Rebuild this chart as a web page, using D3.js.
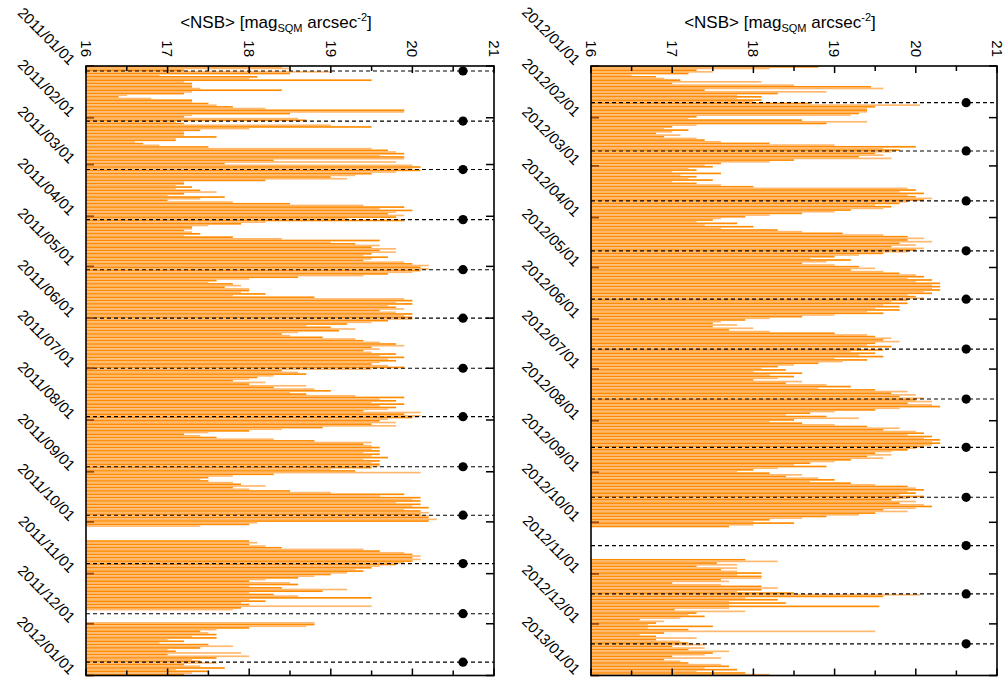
<!DOCTYPE html>
<html>
<head>
<meta charset="utf-8">
<script src="https://cdn.jsdelivr.net/npm/d3@7"></script>
<style>
  html, body { margin: 0; padding: 0; background: #fff; }
  svg { display: block; font-family: "Liberation Sans", Arial, sans-serif; }
</style>
</head>
<body>
<svg id="chart" width="1005" height="679"></svg>
<script>
// Nightly sky brightness, one value per night, from 1 Jan; null = no data
const nsb2011 = [
  18.4,18.5,17.2,19.0,18.5,16.9,18.1,18.0,19.5,17.2,
  17.3,17.3,17.3,17.4,18.4,17.3,17.2,16.5,16.4,16.8,
  17.3,17.3,17.5,17.6,17.8,18.2,19.9,19.9,18.5,17.3,
  17.2,18.6,18.7,17.1,17.2,19.0,19.5,18.0,17.4,17.2,
  17.2,17.2,17.6,17.1,17.1,16.6,16.7,16.9,17.5,19.5,
  19.7,19.8,19.9,19.6,19.9,19.9,18.3,19.8,17.7,20.0,
  20.1,20.0,20.1,19.8,19.5,19.3,19.0,19.2,18.2,17.2,
  17.2,17.1,17.3,17.1,17.4,17.6,17.2,17.0,17.7,17.4,
  17.0,17.8,18.5,19.4,19.9,19.6,20.0,19.8,19.7,19.9,
  19.8,19.2,19.9,18.2,17.9,17.5,17.3,17.3,17.2,17.3,
  17.4,17.2,17.8,18.4,19.6,19.0,19.3,19.6,19.5,19.8,
  19.6,19.8,19.5,19.4,19.7,19.5,19.4,19.9,20.0,20.2,
  20.1,20.2,20.1,20.0,19.7,19.4,18.6,18.0,17.6,17.5,
  17.8,17.9,17.7,18.0,18.0,17.9,18.2,17.8,18.8,19.9,
  20.0,19.8,20.0,19.7,19.8,19.9,19.6,19.8,20.0,19.9,
  20.0,20.0,19.7,19.5,19.2,18.7,19.0,19.3,19.1,18.6,
  18.4,18.5,18.9,19.3,19.4,19.6,19.8,19.9,19.5,19.6,
  19.4,19.5,19.8,19.6,19.9,19.7,19.8,19.6,19.5,19.7,
  19.9,19.5,18.4,18.6,18.7,18.3,18.1,18.0,17.8,18.2,
  18.0,18.7,18.3,18.8,19.0,18.5,18.7,19.3,19.9,19.6,
  19.8,19.5,19.9,19.6,19.8,19.7,19.4,20.1,19.9,20.1,
  20.0,19.7,19.6,19.8,19.5,19.8,18.9,18.4,18.0,17.5,
  17.2,17.4,17.6,18.3,18.8,19.5,19.4,19.5,19.6,19.5,
  19.6,19.4,19.6,19.5,19.7,19.4,19.6,19.5,19.6,19.6,
  19.5,19.0,19.3,20.1,18.3,17.8,17.5,17.4,17.5,17.8,
  17.9,18.2,17.8,18.0,18.5,19.0,19.9,19.6,20.1,20.0,
  20.1,19.8,20.1,20.0,20.2,19.9,20.1,20.2,20.1,20.2,
  20.2,20.3,20.2,18.1,18.0,17.4,null,null,null,null,
  null,null,null,null,18.0,18.1,18.0,18.2,18.4,19.4,
  19.6,19.9,20.0,20.1,20.0,20.1,20.0,19.9,19.8,19.6,
  19.5,19.3,19.4,19.2,19.0,18.8,18.6,18.2,18.0,18.5,
  18.6,18.0,18.4,19.2,18.9,18.0,18.3,18.6,19.5,18.0,
  18.2,17.9,18.0,19.5,17.9,17.8,null,null,null,null,
  null,null,null,18.8,18.8,18.7,18.0,17.6,17.4,17.5,
  17.6,17.3,17.6,17.0,17.2,16.9,17.5,17.8,17.4,17.0,
  17.1,17.9,17.0,18.0,17.6,17.3,17.4,17.6,17.2,17.4,
  17.7,17.1,17.5,17.3,17.2
];
const nsb2012 = [
  18.8,18.2,17.3,17.5,17.2,16.5,16.8,16.9,17.1,18.1,
  17.0,18.5,19.45,19.6,17.4,18.9,18.3,17.8,18.1,17.8,
  18.1,18.0,18.7,20.05,19.5,19.4,19.4,19.4,19.3,19.2,
  17.3,17.2,18.6,19.4,18.9,17.3,17.0,16.9,17.2,17.0,
  16.8,17.1,16.9,17.3,17.4,17.6,18.2,19.0,20.0,19.6,
  19.8,19.7,19.5,19.6,19.3,19.7,18.5,18.2,17.6,17.4,
  17.5,17.2,17.3,17.0,17.6,17.1,17.3,17.2,17.5,17.0,
  17.3,17.6,18.0,19.9,20.0,19.8,20.1,19.9,20.0,20.2,
  20.1,19.9,19.8,19.5,19.7,19.6,19.2,19.0,18.6,18.2,
  17.9,17.6,17.5,17.3,17.8,17.4,18.0,17.6,18.3,18.6,
  19.1,19.6,19.9,20.1,19.9,20.2,19.8,20.0,19.7,20.1,
  20.0,19.9,19.6,19.3,19.0,18.7,19.2,18.9,18.6,19.0,
  19.3,19.5,19.2,19.6,19.8,20.0,20.1,19.9,20.2,20.0,
  20.3,20.2,20.3,20.2,20.3,20.1,20.2,19.9,20.0,20.1,
  19.9,19.7,19.9,19.6,19.8,19.5,19.8,19.4,19.6,19.0,
  18.6,18.2,17.9,17.6,17.5,17.8,17.5,18.0,17.7,18.2,
  19.0,19.4,19.5,19.7,19.6,19.8,19.5,19.4,19.7,19.3,
  19.6,19.2,19.5,19.3,19.6,19.0,19.4,19.1,18.8,18.5,
  18.3,18.1,18.4,18.0,18.6,18.2,18.5,18.3,18.0,18.6,
  18.4,18.9,19.2,18.8,19.5,19.9,19.7,20.0,19.8,20.1,
  20.0,20.2,19.9,20.2,20.3,19.8,19.5,19.0,18.7,18.4,
  18.9,19.3,18.5,18.2,18.6,19.0,19.4,19.8,19.6,20.0,
  20.1,19.9,20.2,20.1,20.3,20.2,20.3,20.2,20.1,20.0,
  19.9,19.7,19.5,19.7,19.4,19.6,19.2,19.0,18.7,18.5,
  18.9,18.3,18.0,17.8,18.2,18.6,18.4,18.8,19.0,18.7,
  19.2,19.5,19.9,20.0,20.1,19.9,20.0,19.8,20.1,19.9,
  19.7,20.0,19.8,20.1,20.2,20.0,19.6,19.9,19.5,19.3,
  18.9,18.6,18.2,18.0,18.5,18.0,17.7,null,null,null,
  null,null,null,null,null,null,null,null,null,null,
  null,null,null,null,null,null,17.9,18.3,17.55,17.8,
  17.3,17.8,17.6,17.8,18.1,17.8,18.1,18.1,17.6,17.7,
  17.0,17.6,18.1,18.3,18.1,17.8,18.5,20.05,19.6,17.9,
  18.3,17.7,18.4,17.7,19.55,17.7,17.03,17.9,17.3,17.2,
  17.4,17.1,16.6,16.9,16.8,16.7,17.5,16.7,17.2,19.5,
  16.9,16.6,16.8,17.3,16.8,17.1,17.2,17.4,17.0,17.4,
  17.2,17.7,17.5,17.4,17.0,17.6,16.9,17.1,17.2,17.6,
  17.7,17.4,17.8,17.3,17.9,18.2
];

// New moon dates, marked with dashed lines
const newMoon2011 = ["2011-01-04","2011-02-03","2011-03-04","2011-04-03","2011-05-03","2011-06-01",
  "2011-07-01","2011-07-30","2011-08-29","2011-09-27","2011-10-26","2011-11-25","2011-12-24"];
const newMoon2012 = ["2012-01-23","2012-02-21","2012-03-22","2012-04-21","2012-05-20","2012-06-19",
  "2012-07-19","2012-08-17","2012-09-16","2012-10-15","2012-11-13","2012-12-13"];

// Magnitude axis
const magDomain = [16, 21];
const magTicks = [16, 17, 18, 19, 20, 21];
const magMinorTicks = [16.5, 17.5, 18.5, 19.5, 20.5];
const moonMarkerMag = 20.62;

const panels = [
  { left: 86, right: 494, start: "2011-01-01", end: "2012-01-01", values: nsb2011, moons: newMoon2011 },
  { left: 591, right: 997, start: "2012-01-01", end: "2013-01-01", values: nsb2012, moons: newMoon2012 }
];

const TOP = 66, BOTTOM = 675.5;
const svg = d3.select("#chart");
const parse = d3.utcParse("%Y-%m-%d");
const fmt = d3.utcFormat("%Y/%m/%d");
const darkOrange = "#ff8c00", lightOrange = "#ffb86e";

panels.forEach(p => {
  const t0 = parse(p.start), t1 = parse(p.end);
  const x = d3.scaleLinear().domain(magDomain).range([p.left, p.right]);
  const y = d3.scaleUtc().domain([t0, t1]).range([TOP, BOTTOM]);
  const days = d3.utcDay.range(t0, t1);
  const g = svg.append("g");

  // nightly bars from the faint end of the axis
  const rows = days.map((d, i) => ({ date: d, v: p.values[i], i }))
    .filter(r => r.v != null);
  g.append("g").selectAll("rect").data(rows).join("rect")
    .attr("x", x(magDomain[0]))
    .attr("y", r => y(r.date))
    .attr("width", r => x(r.v) - x(magDomain[0]))
    .attr("height", r => y(d3.utcDay.offset(r.date, 1)) - y(r.date))
    .attr("fill", r => r.i % 2 ? lightOrange : darkOrange);

  // new moon dashed lines with markers
  const moons = p.moons.map(parse);
  g.append("g").selectAll("line").data(moons).join("line")
    .attr("x1", p.left).attr("x2", p.right)
    .attr("y1", d => y(d)).attr("y2", d => y(d))
    .attr("stroke", "#000").attr("stroke-width", 1.1)
    .attr("stroke-dasharray", "4,3");
  g.append("g").selectAll("circle").data(moons).join("circle")
    .attr("cx", x(moonMarkerMag)).attr("cy", d => y(d)).attr("r", 4.6)
    .attr("fill", "#000");

  // month ticks, inward on both sides
  const months = d3.utcMonth.range(t0, d3.utcDay.offset(t1, 1));
  g.append("g").selectAll("line").data(months).join("line")
    .attr("x1", p.left).attr("x2", p.left + 8)
    .attr("y1", d => y(d)).attr("y2", d => y(d))
    .attr("stroke", "#9a4a10").attr("stroke-width", 1.8);
  g.append("g").selectAll("line").data(months).join("line")
    .attr("x1", p.right).attr("x2", p.right - 8)
    .attr("y1", d => y(d)).attr("y2", d => y(d))
    .attr("stroke", "#000").attr("stroke-width", 1.5);

  // month labels
  g.append("g").selectAll("text").data(months).join("text")
    .attr("transform", d => `translate(${p.left - 17},${y(d)}) rotate(45)`)
    .attr("text-anchor", "end")
    .attr("font-size", 15)
    .attr("fill", "#000")
    .text(d => fmt(d));

  // magnitude ticks top and bottom, inward
  const tickSets = [
    { vals: magTicks, len: 7 },
    { vals: magMinorTicks, len: 5 }
  ];
  tickSets.forEach(ts => {
    g.append("g").selectAll("line").data(ts.vals).join("line")
      .attr("x1", d => x(d)).attr("x2", d => x(d))
      .attr("y1", TOP).attr("y2", TOP + ts.len)
      .attr("stroke", "#000").attr("stroke-width", 1.5);
    g.append("g").selectAll("line").data(ts.vals).join("line")
      .attr("x1", d => x(d)).attr("x2", d => x(d))
      .attr("y1", BOTTOM).attr("y2", BOTTOM - ts.len)
      .attr("stroke", "#000").attr("stroke-width", 1.5);
  });
  g.append("g").selectAll("text").data(magTicks).join("text")
    .attr("transform", d => `translate(${x(d)},${TOP - 9}) rotate(90)`)
    .attr("text-anchor", "end")
    .attr("dy", "0.35em")
    .attr("font-size", 15)
    .text(d => d);

  // frame
  g.append("rect")
    .attr("x", p.left).attr("y", TOP)
    .attr("width", p.right - p.left).attr("height", BOTTOM - TOP)
    .attr("fill", "none").attr("stroke", "#000").attr("stroke-width", 1.6);

  // axis title
  const title = g.append("text")
    .attr("x", (p.left + p.right) / 2 - 14).attr("y", 28)
    .attr("text-anchor", "middle").attr("font-size", 17);
  title.append("tspan").text("<NSB> [mag");
  title.append("tspan").attr("font-size", 11).attr("dy", 4).text("SQM");
  title.append("tspan").attr("dy", -4).text(" arcsec");
  title.append("tspan").attr("font-size", 11).attr("dy", -7).text("-2");
  title.append("tspan").attr("dy", 7).text("]");
});
</script>
</body>
</html>
